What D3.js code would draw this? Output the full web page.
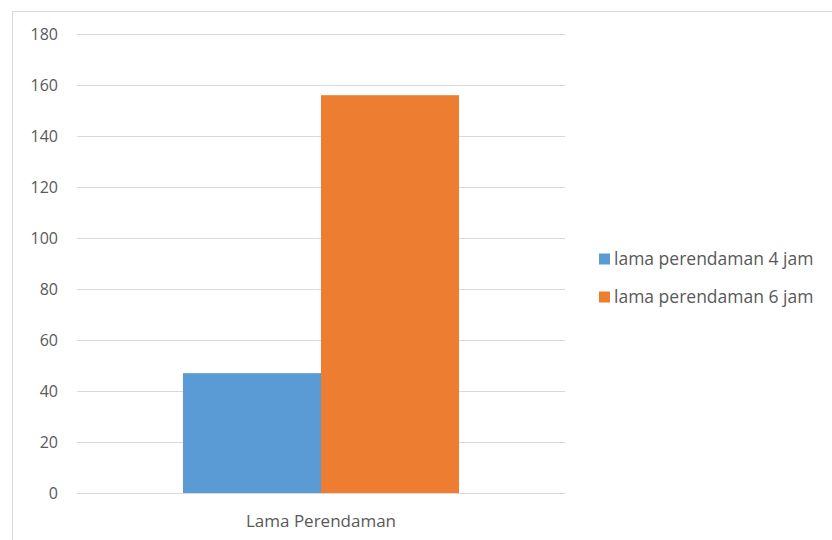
<!DOCTYPE html>
<html>
<head>
<meta charset="utf-8">
<script src="https://cdn.jsdelivr.net/npm/d3@7"></script>
<style>
  html, body { margin: 0; padding: 0; background: #fff; }
  svg { display: block; }
  text { font-family: "Open Sans", "Noto Sans", sans-serif; fill: #595959; }
</style>
</head>
<body>
<svg id="chart" width="832" height="540"></svg>
<script>
const categories = ["Lama Perendaman"];
const seriesNames = ["lama perendaman 4 jam", "lama perendaman 6 jam"];
const seriesValues = [[47], [156]];
const seriesColors = ["#5b9bd5", "#ed7d31"];
const yTicks = [0, 20, 40, 60, 80, 100, 120, 140, 160, 180];

const svg = d3.select("#chart");
const W = 832, H = 540;

// outer frame of the chart area
svg.append("path")
  .attr("d", `M12.5,${H} V11.5 H${W}`)
  .attr("fill", "none")
  .attr("stroke", "#d9d9d9")
  .attr("stroke-width", 1);

const plot = { left: 77, right: 565, top: 34, bottom: 493 };

const y = d3.scaleLinear().domain([0, 180]).range([plot.bottom, plot.top]);
const x0 = d3.scaleBand().domain(categories).range([plot.left, plot.right])
  .paddingInner(0).paddingOuter(0.384);
const x1 = d3.scaleBand().domain(seriesNames).range([0, x0.bandwidth()]).padding(0);

// horizontal gridlines
svg.append("g")
  .selectAll("line")
  .data(yTicks)
  .join("line")
  .attr("x1", plot.left).attr("x2", plot.right)
  .attr("y1", d => Math.round(y(d)) + 0.5).attr("y2", d => Math.round(y(d)) + 0.5)
  .attr("stroke", "#d9d9d9").attr("stroke-width", 1);

// y axis labels
const yAxis = d3.axisLeft(y).tickValues(yTicks).tickSize(0).tickPadding(0);
const gy = svg.append("g").attr("transform", `translate(58,0)`).call(yAxis);
gy.select(".domain").remove();
gy.selectAll("text")
  .style("font-size", "16px")
  .attr("fill", "#595959")
  .attr("dy", "0.35em");

// bars
const groups = svg.append("g")
  .selectAll("g")
  .data(categories)
  .join("g")
  .attr("transform", d => `translate(${x0(d)},0)`);

groups.selectAll("rect")
  .data((d, ci) => seriesNames.map((s, si) => ({ s, v: seriesValues[si][ci], c: seriesColors[si] })))
  .join("rect")
  .attr("x", d => x1(d.s))
  .attr("width", x1.bandwidth())
  .attr("y", d => y(d.v))
  .attr("height", d => y(0) - y(d.v))
  .attr("fill", d => d.c);

// category axis label
const xAxis = d3.axisBottom(x0).tickSize(0).tickPadding(0);
const gx = svg.append("g").attr("transform", `translate(0,${plot.bottom + 28})`).call(xAxis);
gx.select(".domain").remove();
gx.selectAll("text")
  .style("font-size", "17px")
  .attr("fill", "#595959")
  .attr("dy", "0.35em");

// legend
const legend = svg.append("g").attr("transform", "translate(599,259)");
const items = legend.selectAll("g")
  .data(seriesNames)
  .join("g")
  .attr("transform", (d, i) => `translate(0,${i * 38})`);
items.append("rect")
  .attr("x", 0).attr("y", -5.5)
  .attr("width", 11).attr("height", 11)
  .attr("fill", (d, i) => seriesColors[i]);
items.append("text")
  .attr("x", 15).attr("y", 0)
  .attr("dy", "0.35em")
  .style("font-size", "17.5px")
  .text(d => d);
</script>
</body>
</html>
